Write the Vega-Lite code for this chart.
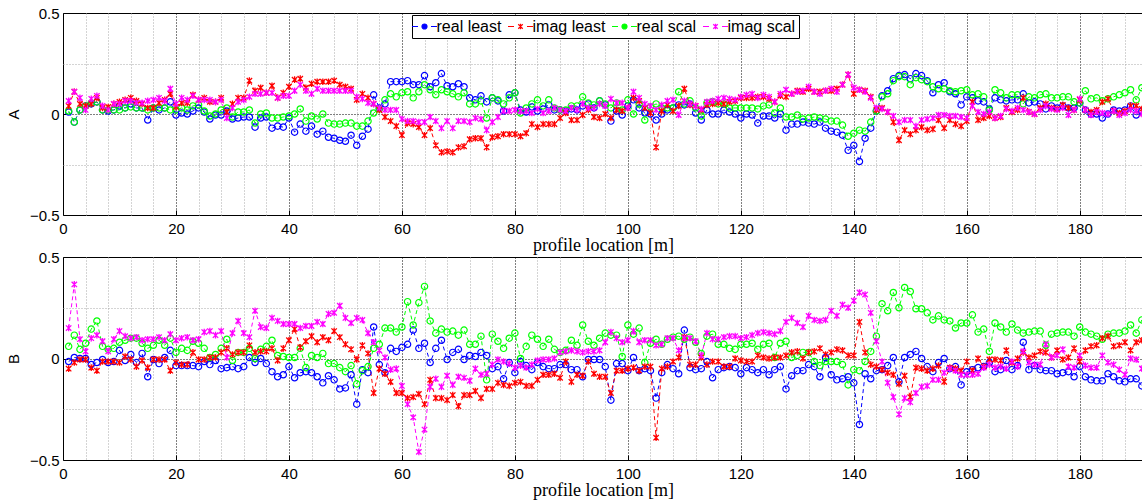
{
"$schema": "https://vega.github.io/schema/vega-lite/v6.json",
"background": "white",
"padding": {"left": 5, "top": 5, "right": 0, "bottom": 0},
"bounds": "flush",
"spacing": 42,
"config": {
  "view": {"stroke": "black", "strokeWidth": 1},
  "font": "Liberation Sans",
  "axis": {"domain": false, "labelFont": "Liberation Sans", "labelFontSize": 15, "labelColor": "black", "tickColor": "black", "tickSize": -5, "tickWidth": 1, "gridDash": [1, 2], "gridWidth": 1, "titleColor": "black", "titleFontWeight": "normal"}
},
"resolve": {"scale": {"color": "independent"}},
"data": {"values": [
{"m":1,"ra":0.01,"ia":0.04,"sa":0.015,"ja":0.065,"rb":-0.015,"ib":-0.05,"sb":0.06,"jb":0.15},
{"m":2,"ra":-0.04,"ia":0.11,"sa":-0.04,"ja":0.11,"rb":0.005,"ib":-0.02,"sb":0.115,"jb":0.365},
{"m":3,"ra":0.02,"ia":0.05,"sa":0.02,"ja":0.08,"rb":0,"ib":-0.005,"sb":0.045,"jb":0.095},
{"m":4,"ra":0.04,"ia":0.04,"sa":0.04,"ja":0.02,"rb":0,"ib":-0.005,"sb":0.075,"jb":0.035},
{"m":5,"ra":0.05,"ia":0.05,"sa":0.055,"ja":0.075,"rb":-0.03,"ib":-0.045,"sb":0.145,"jb":0.1},
{"m":6,"ra":0.06,"ia":0.08,"sa":0.06,"ja":0.09,"rb":-0.02,"ib":-0.06,"sb":0.185,"jb":0.115},
{"m":7,"ra":0.02,"ia":0.03,"sa":0.02,"ja":0.04,"rb":-0.005,"ib":-0.015,"sb":0.06,"jb":0.085},
{"m":8,"ra":0.015,"ia":0.035,"sa":0.02,"ja":0.02,"rb":-0.02,"ib":-0.015,"sb":0.045,"jb":0.035},
{"m":9,"ra":0.02,"ia":0.05,"sa":0.02,"ja":0.05,"rb":-0.015,"ib":-0.015,"sb":0.05,"jb":0.095},
{"m":10,"ra":0.04,"ia":0.06,"sa":0.02,"ja":0.05,"rb":0.04,"ib":-0.02,"sb":0.08,"jb":0.135},
{"m":11,"ra":0.03,"ia":0.07,"sa":0.03,"ja":0.065,"rb":-0.01,"ib":0.01,"sb":0.09,"jb":0.11},
{"m":12,"ra":0.05,"ia":0.08,"sa":0.035,"ja":0.065,"rb":0.02,"ib":-0.005,"sb":0.1,"jb":0.1},
{"m":13,"ra":0.03,"ia":0.065,"sa":0.03,"ja":0.055,"rb":-0.02,"ib":-0.04,"sb":0.1,"jb":0.105},
{"m":14,"ra":0.03,"ia":0.05,"sa":0.03,"ja":0.055,"rb":0.025,"ib":-0.01,"sb":0.075,"jb":0.09},
{"m":15,"ra":-0.03,"ia":0.03,"sa":0.02,"ja":0.065,"rb":-0.09,"ib":-0.045,"sb":0.05,"jb":0.095},
{"m":16,"ra":0.03,"ia":0.03,"sa":0.03,"ja":0.07,"rb":-0.005,"ib":-0.005,"sb":0.065,"jb":0.095},
{"m":17,"ra":0.02,"ia":0.055,"sa":0.03,"ja":0.08,"rb":-0.025,"ib":-0.005,"sb":0.09,"jb":0.105},
{"m":18,"ra":0.03,"ia":0.07,"sa":0.03,"ja":0.065,"rb":0.005,"ib":-0.005,"sb":0.065,"jb":0.09},
{"m":19,"ra":0.06,"ia":0.1,"sa":0.02,"ja":0.125,"rb":0.04,"ib":-0.06,"sb":0.1,"jb":0.12},
{"m":20,"ra":-0.005,"ia":0.035,"sa":0.02,"ja":0.05,"rb":-0.035,"ib":-0.02,"sb":0.03,"jb":0.09},
{"m":21,"ra":0.005,"ia":0.055,"sa":0.03,"ja":0.08,"rb":-0.035,"ib":-0.03,"sb":0.05,"jb":0.1},
{"m":22,"ra":0,"ia":0.055,"sa":0.02,"ja":0.07,"rb":-0.035,"ib":-0.03,"sb":0.04,"jb":0.105},
{"m":23,"ra":0.015,"ia":0.095,"sa":0.04,"ja":0.09,"rb":-0.035,"ib":0.03,"sb":0.085,"jb":0.09},
{"m":24,"ra":0.03,"ia":0.07,"sa":0.045,"ja":0.07,"rb":-0.04,"ib":-0.005,"sb":0.075,"jb":0.095},
{"m":25,"ra":0.01,"ia":0.08,"sa":0.015,"ja":0.07,"rb":-0.015,"ib":-0.005,"sb":0.05,"jb":0.13},
{"m":26,"ra":-0.025,"ia":0.06,"sa":-0.01,"ja":0.07,"rb":-0.03,"ib":0.005,"sb":0.005,"jb":0.135},
{"m":27,"ra":-0.005,"ia":0.06,"sa":0,"ja":0.06,"rb":-0.01,"ib":0.005,"sb":0.02,"jb":0.115},
{"m":28,"ra":-0.005,"ia":0.08,"sa":0.02,"ja":0.07,"rb":-0.05,"ib":0.03,"sb":0.05,"jb":0.135},
{"m":29,"ra":0.015,"ia":0.01,"sa":0.03,"ja":-0.02,"rb":-0.045,"ib":0.05,"sb":0.095,"jb":0.005},
{"m":30,"ra":-0.025,"ia":0.05,"sa":-0.015,"ja":0.03,"rb":-0.04,"ib":0.02,"sb":-0.01,"jb":0.125},
{"m":31,"ra":-0.02,"ia":0.08,"sa":0.01,"ja":0.06,"rb":-0.05,"ib":0.03,"sb":0.03,"jb":0.185},
{"m":32,"ra":-0.015,"ia":0.08,"sa":0.01,"ja":0.07,"rb":-0.04,"ib":0.03,"sb":0.03,"jb":0.125},
{"m":33,"ra":-0.015,"ia":0.165,"sa":0.02,"ja":0.085,"rb":0.005,"ib":0.065,"sb":0.05,"jb":0.105},
{"m":34,"ra":-0.065,"ia":0.115,"sa":-0.045,"ja":0.1,"rb":-0.02,"ib":0.03,"sb":0,"jb":0.235},
{"m":35,"ra":-0.02,"ia":0.13,"sa":0,"ja":0.1,"rb":0,"ib":0.035,"sb":0.045,"jb":0.155},
{"m":36,"ra":-0.015,"ia":0.105,"sa":0.005,"ja":0.105,"rb":-0.025,"ib":0.035,"sb":0.06,"jb":0.15},
{"m":37,"ra":-0.07,"ia":0.14,"sa":-0.02,"ja":0.105,"rb":-0.065,"ib":0.05,"sb":0.09,"jb":0.2},
{"m":38,"ra":-0.06,"ia":0.08,"sa":-0.02,"ja":0.08,"rb":-0.09,"ib":-0.01,"sb":0.015,"jb":0.185},
{"m":39,"ra":-0.065,"ia":0.105,"sa":-0.015,"ja":0.09,"rb":-0.08,"ib":0.05,"sb":0.01,"jb":0.17},
{"m":40,"ra":-0.02,"ia":0.135,"sa":-0.01,"ja":0.09,"rb":-0.04,"ib":0.09,"sb":0.005,"jb":0.17},
{"m":41,"ra":-0.09,"ia":0.17,"sa":0,"ja":0.115,"rb":-0.095,"ib":0.145,"sb":0.005,"jb":0.17},
{"m":42,"ra":-0.05,"ia":0.175,"sa":0.025,"ja":0.145,"rb":-0.07,"ib":0.055,"sb":0.05,"jb":0.15},
{"m":43,"ra":-0.085,"ia":0.13,"sa":-0.035,"ja":0.115,"rb":-0.065,"ib":0.085,"sb":-0.045,"jb":0.16},
{"m":44,"ra":-0.06,"ia":0.15,"sa":-0.01,"ja":0.1,"rb":-0.07,"ib":0.11,"sb":0.015,"jb":0.16},
{"m":45,"ra":-0.1,"ia":0.16,"sa":-0.025,"ja":0.125,"rb":-0.09,"ib":0.08,"sb":0.005,"jb":0.18},
{"m":46,"ra":-0.085,"ia":0.16,"sa":0,"ja":0.115,"rb":-0.12,"ib":0.105,"sb":0.025,"jb":0.17},
{"m":47,"ra":-0.115,"ia":0.16,"sa":-0.045,"ja":0.115,"rb":-0.085,"ib":0.09,"sb":-0.025,"jb":0.22},
{"m":48,"ra":-0.12,"ia":0.165,"sa":-0.05,"ja":0.115,"rb":-0.105,"ib":0.135,"sb":-0.025,"jb":0.225},
{"m":49,"ra":-0.13,"ia":0.145,"sa":-0.05,"ja":0.115,"rb":-0.15,"ib":0.105,"sb":-0.045,"jb":0.26},
{"m":50,"ra":-0.135,"ia":0.135,"sa":-0.045,"ja":0.115,"rb":-0.145,"ib":0.07,"sb":-0.065,"jb":0.2},
{"m":51,"ra":-0.105,"ia":0.125,"sa":-0.045,"ja":0.115,"rb":-0.08,"ib":0.045,"sb":-0.035,"jb":0.175},
{"m":52,"ra":-0.155,"ia":0.07,"sa":-0.06,"ja":0.085,"rb":-0.225,"ib":-0.005,"sb":-0.125,"jb":0.2},
{"m":53,"ra":-0.11,"ia":0.1,"sa":-0.06,"ja":0.075,"rb":-0.055,"ib":0.065,"sb":-0.06,"jb":0.19},
{"m":54,"ra":-0.075,"ia":0.08,"sa":-0.035,"ja":0.055,"rb":-0.07,"ib":0.025,"sb":-0.04,"jb":0.125},
{"m":55,"ra":0.095,"ia":0.05,"sa":0.005,"ja":0.05,"rb":0.155,"ib":-0.17,"sb":0.05,"jb":0.08},
{"m":56,"ra":0.03,"ia":0.02,"sa":0.025,"ja":0.03,"rb":-0.03,"ib":-0.05,"sb":0.07,"jb":0.04},
{"m":57,"ra":0.05,"ia":-0.015,"sa":0.07,"ja":0.02,"rb":-0.07,"ib":-0.075,"sb":0.15,"jb":0.005},
{"m":58,"ra":0.16,"ia":-0.035,"sa":0.1,"ja":0.02,"rb":0.05,"ib":-0.115,"sb":0.15,"jb":-0.055},
{"m":59,"ra":0.16,"ia":-0.06,"sa":0.085,"ja":0.02,"rb":0.035,"ib":-0.17,"sb":0.13,"jb":-0.05},
{"m":60,"ra":0.16,"ia":-0.105,"sa":0.105,"ja":-0.025,"rb":0.055,"ib":-0.17,"sb":0.155,"jb":-0.135},
{"m":61,"ra":0.165,"ia":-0.045,"sa":0.11,"ja":-0.035,"rb":0.07,"ib":-0.195,"sb":0.28,"jb":-0.225},
{"m":62,"ra":0.145,"ia":-0.05,"sa":0.08,"ja":-0.035,"rb":0.14,"ib":-0.19,"sb":0.165,"jb":-0.29},
{"m":63,"ra":0.145,"ia":-0.065,"sa":0.11,"ja":-0.04,"rb":0.05,"ib":-0.175,"sb":0.275,"jb":-0.46},
{"m":64,"ra":0.19,"ia":-0.105,"sa":0.145,"ja":-0.04,"rb":0.075,"ib":-0.225,"sb":0.355,"jb":-0.35},
{"m":65,"ra":0.135,"ia":-0.07,"sa":0.12,"ja":-0.015,"rb":-0.02,"ib":-0.105,"sb":0.185,"jb":-0.14},
{"m":66,"ra":0.155,"ia":-0.155,"sa":0.095,"ja":-0.035,"rb":0.05,"ib":-0.195,"sb":0.125,"jb":-0.1},
{"m":67,"ra":0.2,"ia":-0.19,"sa":0.12,"ja":-0.07,"rb":0.09,"ib":-0.195,"sb":0.145,"jb":-0.14},
{"m":68,"ra":0.14,"ia":-0.185,"sa":0.11,"ja":-0.035,"rb":-0.005,"ib":-0.205,"sb":0.13,"jb":-0.085},
{"m":69,"ra":0.135,"ia":-0.19,"sa":0.1,"ja":-0.07,"rb":0.03,"ib":-0.18,"sb":0.135,"jb":-0.13},
{"m":70,"ra":0.15,"ia":-0.165,"sa":0.085,"ja":-0.035,"rb":0.045,"ib":-0.235,"sb":0.115,"jb":-0.09},
{"m":71,"ra":0.135,"ia":-0.16,"sa":0.105,"ja":-0.035,"rb":-0.005,"ib":-0.18,"sb":0.14,"jb":-0.095},
{"m":72,"ra":0.08,"ia":-0.125,"sa":0.05,"ja":-0.04,"rb":0.015,"ib":-0.18,"sb":0.07,"jb":-0.11},
{"m":73,"ra":0.07,"ia":-0.12,"sa":0.05,"ja":-0.02,"rb":0.01,"ib":-0.16,"sb":0.07,"jb":-0.05},
{"m":74,"ra":0.09,"ia":-0.12,"sa":0.065,"ja":-0.025,"rb":0.03,"ib":-0.195,"sb":0.11,"jb":-0.08},
{"m":75,"ra":0.06,"ia":-0.165,"sa":-0.02,"ja":-0.08,"rb":0.015,"ib":-0.15,"sb":-0.105,"jb":-0.075},
{"m":76,"ra":0.08,"ia":-0.115,"sa":0.08,"ja":-0.04,"rb":-0.05,"ib":-0.15,"sb":0.12,"jb":-0.03},
{"m":77,"ra":0.065,"ia":-0.11,"sa":0.07,"ja":-0.015,"rb":-0.04,"ib":-0.12,"sb":0.085,"jb":-0.005},
{"m":78,"ra":0.015,"ia":-0.1,"sa":0.05,"ja":0.015,"rb":-0.1,"ib":-0.13,"sb":0.05,"jb":-0.015},
{"m":79,"ra":0.095,"ia":-0.1,"sa":0.08,"ja":0.015,"rb":-0.02,"ib":-0.135,"sb":0.1,"jb":-0.025},
{"m":80,"ra":0.105,"ia":-0.1,"sa":0.105,"ja":0.02,"rb":-0.07,"ib":-0.12,"sb":0.125,"jb":-0.045},
{"m":81,"ra":0.02,"ia":-0.11,"sa":0.005,"ja":0.015,"rb":-0.015,"ib":-0.115,"sb":0,"jb":-0.035},
{"m":82,"ra":0.01,"ia":-0.095,"sa":0.03,"ja":0.015,"rb":-0.035,"ib":-0.135,"sb":0.06,"jb":-0.045},
{"m":83,"ra":0.035,"ia":-0.05,"sa":0.05,"ja":0.005,"rb":-0.055,"ib":-0.135,"sb":0.115,"jb":-0.03},
{"m":84,"ra":0.015,"ia":-0.065,"sa":0.07,"ja":0.025,"rb":-0.02,"ib":-0.105,"sb":0.095,"jb":-0.01},
{"m":85,"ra":0.025,"ia":-0.05,"sa":0.04,"ja":0.005,"rb":-0.04,"ib":-0.08,"sb":0.06,"jb":-0.005},
{"m":86,"ra":0.045,"ia":-0.05,"sa":0.07,"ja":0.015,"rb":-0.05,"ib":-0.08,"sb":0.095,"jb":-0.005},
{"m":87,"ra":0.02,"ia":-0.05,"sa":0.03,"ja":0.03,"rb":-0.05,"ib":-0.075,"sb":0.045,"jb":0},
{"m":88,"ra":0.02,"ia":-0.02,"sa":0.02,"ja":0.02,"rb":-0.03,"ib":-0.095,"sb":0.03,"jb":0.03},
{"m":89,"ra":0.015,"ia":0.005,"sa":0.02,"ja":0.015,"rb":-0.03,"ib":-0.015,"sb":0.04,"jb":0.035},
{"m":90,"ra":0.025,"ia":-0.03,"sa":0.04,"ja":0.03,"rb":-0.055,"ib":-0.115,"sb":0.09,"jb":0.04},
{"m":91,"ra":0.02,"ia":-0.03,"sa":0.04,"ja":0.02,"rb":-0.055,"ib":-0.08,"sb":0.065,"jb":0.035},
{"m":92,"ra":0.04,"ia":-0.005,"sa":0.085,"ja":0.05,"rb":-0.09,"ib":-0.085,"sb":0.165,"jb":0.03},
{"m":93,"ra":0.05,"ia":0.02,"sa":0.055,"ja":0.03,"rb":-0.005,"ib":-0.015,"sb":0.085,"jb":0.035},
{"m":94,"ra":0.03,"ia":-0.015,"sa":0.045,"ja":0.03,"rb":-0.005,"ib":-0.075,"sb":0.065,"jb":0.035},
{"m":95,"ra":0.065,"ia":-0.02,"sa":0.065,"ja":0.05,"rb":-0.005,"ib":-0.09,"sb":0.1,"jb":0.04},
{"m":96,"ra":0.045,"ia":0,"sa":0.05,"ja":0.04,"rb":-0.04,"ib":-0.09,"sb":0.125,"jb":0.08},
{"m":97,"ra":-0.035,"ia":-0.02,"sa":0.03,"ja":0.075,"rb":-0.205,"ib":-0.17,"sb":0.115,"jb":0.13},
{"m":98,"ra":0.015,"ia":0.02,"sa":0.055,"ja":0.055,"rb":-0.025,"ib":-0.06,"sb":0.115,"jb":0.1},
{"m":99,"ra":-0.005,"ia":0.015,"sa":0.02,"ja":0.055,"rb":-0.025,"ib":-0.06,"sb":0.01,"jb":0.08},
{"m":100,"ra":0.04,"ia":0.03,"sa":0.07,"ja":0.03,"rb":-0.06,"ib":-0.05,"sb":0.165,"jb":0.09},
{"m":101,"ra":0.07,"ia":0.08,"sa":0,"ja":0.11,"rb":0.005,"ib":-0.045,"sb":0.12,"jb":0.135},
{"m":102,"ra":0.03,"ia":0.065,"sa":0.05,"ja":0.08,"rb":-0.06,"ib":-0.06,"sb":0.15,"jb":0.08},
{"m":103,"ra":0.005,"ia":0.03,"sa":-0.03,"ja":0.05,"rb":-0.05,"ib":-0.04,"sb":-0.02,"jb":0.09},
{"m":104,"ra":0,"ia":0.005,"sa":0.035,"ja":0.04,"rb":-0.06,"ib":-0.04,"sb":0.075,"jb":0.09},
{"m":105,"ra":-0.03,"ia":-0.165,"sa":0.05,"ja":0.02,"rb":-0.195,"ib":-0.39,"sb":0.095,"jb":0.065},
{"m":106,"ra":0,"ia":0.015,"sa":0.03,"ja":0.045,"rb":-0.07,"ib":-0.05,"sb":0.07,"jb":0.07},
{"m":107,"ra":0.02,"ia":0.045,"sa":0.03,"ja":0.065,"rb":-0.03,"ib":-0.04,"sb":0.095,"jb":0.1},
{"m":108,"ra":0.03,"ia":0.015,"sa":0.03,"ja":0.07,"rb":-0.05,"ib":-0.015,"sb":0.105,"jb":0.1},
{"m":109,"ra":0.045,"ia":0.04,"sa":0.11,"ja":-0.005,"rb":-0.075,"ib":0.005,"sb":0.11,"jb":0.04},
{"m":110,"ra":0.045,"ia":0.125,"sa":0.05,"ja":0.065,"rb":0.14,"ib":0.105,"sb":0.095,"jb":0.1},
{"m":111,"ra":0.05,"ia":0.045,"sa":0.065,"ja":0.05,"rb":-0.045,"ib":-0.03,"sb":0.105,"jb":0.1},
{"m":112,"ra":0.005,"ia":0.04,"sa":0.03,"ja":0.04,"rb":-0.055,"ib":-0.03,"sb":0.08,"jb":0.085},
{"m":113,"ra":-0.03,"ia":0.02,"sa":-0.01,"ja":0.025,"rb":-0.05,"ib":0.005,"sb":0.025,"jb":0.015},
{"m":114,"ra":0.02,"ia":0.045,"sa":0.055,"ja":0.06,"rb":-0.015,"ib":-0.03,"sb":0.11,"jb":0.125},
{"m":115,"ra":0,"ia":0.05,"sa":0.06,"ja":0.065,"rb":-0.095,"ib":-0.015,"sb":0.12,"jb":0.095},
{"m":116,"ra":0,"ia":0.055,"sa":0.05,"ja":0.075,"rb":-0.055,"ib":-0.015,"sb":0.07,"jb":0.095},
{"m":117,"ra":0.02,"ia":0.05,"sa":0.05,"ja":0.08,"rb":-0.045,"ib":-0.04,"sb":0.07,"jb":0.105},
{"m":118,"ra":0.01,"ia":0.06,"sa":0.03,"ja":0.075,"rb":-0.04,"ib":-0.04,"sb":0.05,"jb":0.11},
{"m":119,"ra":0,"ia":0.065,"sa":0.03,"ja":0.07,"rb":-0.045,"ib":0,"sb":0.045,"jb":0.11},
{"m":120,"ra":-0.02,"ia":0.08,"sa":0.03,"ja":0.085,"rb":-0.075,"ib":-0.01,"sb":0.07,"jb":0.1},
{"m":121,"ra":0,"ia":0.08,"sa":0.03,"ja":0.095,"rb":-0.045,"ib":-0.015,"sb":0.07,"jb":0.105},
{"m":122,"ra":-0.005,"ia":0.08,"sa":0.03,"ja":0.1,"rb":-0.055,"ib":-0.015,"sb":0.075,"jb":0.115},
{"m":123,"ra":-0.045,"ia":0.085,"sa":0.025,"ja":0.08,"rb":-0.07,"ib":0.015,"sb":0.045,"jb":0.125},
{"m":124,"ra":-0.01,"ia":0.085,"sa":0.04,"ja":0.095,"rb":-0.055,"ib":0.005,"sb":0.07,"jb":0.13},
{"m":125,"ra":-0.01,"ia":0.075,"sa":0.045,"ja":0.085,"rb":-0.08,"ib":0,"sb":0.075,"jb":0.125},
{"m":126,"ra":-0.02,"ia":0.06,"sa":0.005,"ja":0.06,"rb":-0.055,"ib":0.005,"sb":0.005,"jb":0.12},
{"m":127,"ra":0,"ia":0.09,"sa":0.03,"ja":0.1,"rb":-0.04,"ib":0.005,"sb":0.075,"jb":0.135},
{"m":128,"ra":-0.08,"ia":0.085,"sa":-0.015,"ja":0.12,"rb":-0.15,"ib":0.015,"sb":0.085,"jb":0.18},
{"m":129,"ra":-0.05,"ia":0.1,"sa":-0.015,"ja":0.1,"rb":-0.085,"ib":0.03,"sb":0.005,"jb":0.2},
{"m":130,"ra":-0.05,"ia":0.115,"sa":-0.005,"ja":0.11,"rb":-0.06,"ib":0.035,"sb":0.015,"jb":0.175},
{"m":131,"ra":-0.04,"ia":0.11,"sa":-0.025,"ja":0.115,"rb":-0.06,"ib":0,"sb":0.03,"jb":0.155},
{"m":132,"ra":-0.045,"ia":0.125,"sa":-0.02,"ja":0.135,"rb":-0.03,"ib":0.03,"sb":0.03,"jb":0.21},
{"m":133,"ra":-0.05,"ia":0.11,"sa":-0.015,"ja":0.11,"rb":-0.04,"ib":0.035,"sb":-0.015,"jb":0.19},
{"m":134,"ra":-0.04,"ia":0.11,"sa":-0.02,"ja":0.1,"rb":-0.09,"ib":0.05,"sb":-0.035,"jb":0.185},
{"m":135,"ra":-0.07,"ia":0.115,"sa":-0.025,"ja":0.115,"rb":0.005,"ib":0.02,"sb":-0.015,"jb":0.19},
{"m":136,"ra":-0.085,"ia":0.115,"sa":-0.035,"ja":0.125,"rb":-0.08,"ib":0.03,"sb":-0.015,"jb":0.235},
{"m":137,"ra":-0.09,"ia":0.125,"sa":-0.035,"ja":0.11,"rb":-0.105,"ib":0.045,"sb":-0.015,"jb":0.21},
{"m":138,"ra":-0.105,"ia":0.145,"sa":-0.055,"ja":0.145,"rb":-0.1,"ib":0.04,"sb":-0.03,"jb":0.265},
{"m":139,"ra":-0.18,"ia":0.195,"sa":-0.11,"ja":0.195,"rb":-0.09,"ib":0.015,"sb":-0.13,"jb":0.25},
{"m":140,"ra":-0.155,"ia":0.1,"sa":-0.095,"ja":0.13,"rb":-0.12,"ib":0.015,"sb":-0.055,"jb":0.285},
{"m":141,"ra":-0.235,"ia":0.12,"sa":-0.08,"ja":0.12,"rb":-0.325,"ib":0.18,"sb":-0.06,"jb":0.325},
{"m":142,"ra":-0.12,"ia":0.115,"sa":-0.085,"ja":0.11,"rb":-0.075,"ib":0.03,"sb":-0.015,"jb":0.315},
{"m":143,"ra":-0.07,"ia":0.085,"sa":-0.04,"ja":0.08,"rb":-0.1,"ib":-0.03,"sb":0.035,"jb":0.225},
{"m":144,"ra":0.015,"ia":0.02,"sa":0.015,"ja":0.03,"rb":-0.06,"ib":-0.04,"sb":0.11,"jb":0.085},
{"m":145,"ra":0.09,"ia":0.03,"sa":0.085,"ja":0.025,"rb":-0.055,"ib":-0.055,"sb":0.27,"jb":-0.015},
{"m":146,"ra":0.115,"ia":0.01,"sa":0.1,"ja":0.01,"rb":-0.035,"ib":-0.07,"sb":0.235,"jb":-0.12},
{"m":147,"ra":0.175,"ia":-0.04,"sa":0.165,"ja":-0.01,"rb":0.005,"ib":-0.08,"sb":0.325,"jb":-0.19},
{"m":148,"ra":0.19,"ia":-0.13,"sa":0.185,"ja":-0.04,"rb":-0.115,"ib":-0.125,"sb":0.25,"jb":-0.275},
{"m":149,"ra":0.195,"ia":-0.08,"sa":0.185,"ja":-0.03,"rb":0.005,"ib":-0.085,"sb":0.35,"jb":-0.195},
{"m":150,"ra":0.175,"ia":-0.1,"sa":0.145,"ja":-0.03,"rb":0.02,"ib":-0.19,"sb":0.33,"jb":-0.215},
{"m":151,"ra":0.2,"ia":-0.08,"sa":0.18,"ja":-0.06,"rb":0.035,"ib":-0.045,"sb":0.245,"jb":-0.17},
{"m":152,"ra":0.19,"ia":-0.065,"sa":0.17,"ja":-0.03,"rb":0,"ib":-0.05,"sb":0.245,"jb":-0.14},
{"m":153,"ra":0.165,"ia":-0.08,"sa":0.16,"ja":-0.025,"rb":-0.04,"ib":-0.06,"sb":0.225,"jb":-0.135},
{"m":154,"ra":0.105,"ia":-0.075,"sa":0.135,"ja":-0.02,"rb":-0.065,"ib":-0.05,"sb":0.19,"jb":-0.105},
{"m":155,"ra":0.145,"ia":-0.03,"sa":0.125,"ja":-0.005,"rb":-0.02,"ib":-0.035,"sb":0.21,"jb":-0.105},
{"m":156,"ra":0.155,"ia":-0.07,"sa":0.125,"ja":-0.005,"rb":0,"ib":-0.115,"sb":0.19,"jb":-0.07},
{"m":157,"ra":0.11,"ia":-0.03,"sa":0.115,"ja":-0.01,"rb":-0.05,"ib":-0.045,"sb":0.185,"jb":-0.05},
{"m":158,"ra":0.1,"ia":-0.05,"sa":0.11,"ja":-0.01,"rb":-0.04,"ib":-0.05,"sb":0.15,"jb":-0.06},
{"m":159,"ra":0.045,"ia":-0.06,"sa":0.115,"ja":-0.015,"rb":-0.13,"ib":-0.06,"sb":0.175,"jb":-0.08},
{"m":160,"ra":0.085,"ia":-0.035,"sa":0.12,"ja":-0.02,"rb":-0.065,"ib":-0.015,"sb":0.175,"jb":-0.08},
{"m":161,"ra":0.08,"ia":0.06,"sa":0.095,"ja":0.04,"rb":-0.055,"ib":-0.06,"sb":0.215,"jb":-0.08},
{"m":162,"ra":0.065,"ia":-0.03,"sa":0.1,"ja":0.01,"rb":-0.045,"ib":0,"sb":0.13,"jb":-0.075},
{"m":163,"ra":0.06,"ia":-0.02,"sa":0.085,"ja":0,"rb":-0.04,"ib":-0.04,"sb":0.145,"jb":-0.045},
{"m":164,"ra":0.025,"ia":-0.01,"sa":0.02,"ja":0.01,"rb":-0.02,"ib":-0.005,"sb":0.035,"jb":-0.03},
{"m":165,"ra":0.08,"ia":-0.02,"sa":0.12,"ja":-0.02,"rb":-0.065,"ib":-0.005,"sb":0.175,"jb":-0.045},
{"m":166,"ra":0.07,"ia":-0.015,"sa":0.105,"ja":-0.01,"rb":-0.055,"ib":-0.01,"sb":0.155,"jb":-0.04},
{"m":167,"ra":0.065,"ia":0.03,"sa":0.08,"ja":0.025,"rb":-0.01,"ib":0.04,"sb":0.13,"jb":-0.05},
{"m":168,"ra":0.07,"ia":0.01,"sa":0.095,"ja":0.015,"rb":-0.055,"ib":-0.02,"sb":0.17,"jb":-0.015},
{"m":169,"ra":0.07,"ia":0.02,"sa":0.095,"ja":0.03,"rb":-0.035,"ib":0,"sb":0.14,"jb":-0.04},
{"m":170,"ra":0.1,"ia":0.08,"sa":0.05,"ja":0.02,"rb":0.08,"ib":0.03,"sb":0.125,"jb":0.035},
{"m":171,"ra":0.055,"ia":0.01,"sa":0.085,"ja":0.01,"rb":-0.055,"ib":0.005,"sb":0.13,"jb":-0.02},
{"m":172,"ra":0.06,"ia":0,"sa":0.08,"ja":0,"rb":-0.035,"ib":0.015,"sb":0.135,"jb":-0.03},
{"m":173,"ra":0.05,"ia":0.03,"sa":0.095,"ja":0.02,"rb":-0.055,"ib":0.035,"sb":0.135,"jb":-0.03},
{"m":174,"ra":0.025,"ia":0.05,"sa":0.1,"ja":0.04,"rb":-0.06,"ib":0.03,"sb":0.065,"jb":0.07},
{"m":175,"ra":0.04,"ia":0.03,"sa":0.08,"ja":0.025,"rb":-0.06,"ib":0.005,"sb":0.12,"jb":0.005},
{"m":176,"ra":0.03,"ia":0.025,"sa":0.08,"ja":0.02,"rb":-0.075,"ib":0.04,"sb":0.125,"jb":0.015},
{"m":177,"ra":0.04,"ia":0.045,"sa":0.085,"ja":0.03,"rb":-0.07,"ib":-0.005,"sb":0.13,"jb":0.045},
{"m":178,"ra":0.03,"ia":0.03,"sa":0.085,"ja":-0.005,"rb":-0.065,"ib":0.005,"sb":0.13,"jb":-0.04},
{"m":179,"ra":0.03,"ia":0.02,"sa":0.06,"ja":0.02,"rb":-0.09,"ib":0.05,"sb":0.11,"jb":-0.045},
{"m":180,"ra":0.055,"ia":0.07,"sa":0.055,"ja":0.075,"rb":-0.04,"ib":-0.015,"sb":0.155,"jb":0.015},
{"m":181,"ra":0.02,"ia":0.02,"sa":0.115,"ja":0.02,"rb":-0.09,"ib":0.04,"sb":0.13,"jb":-0.035},
{"m":182,"ra":0,"ia":0.01,"sa":0.075,"ja":-0.005,"rb":-0.105,"ib":0.06,"sb":0.12,"jb":-0.045},
{"m":183,"ra":0,"ia":0.02,"sa":0.08,"ja":0.01,"rb":-0.11,"ib":0.065,"sb":0.11,"jb":-0.045},
{"m":184,"ra":-0.02,"ia":0.06,"sa":0.065,"ja":0.005,"rb":-0.11,"ib":0.1,"sb":0.095,"jb":0.015},
{"m":185,"ra":0,"ia":0.075,"sa":0.075,"ja":0,"rb":-0.075,"ib":0.11,"sb":0.12,"jb":-0.02},
{"m":186,"ra":0.02,"ia":0.015,"sa":0.085,"ja":0.015,"rb":-0.09,"ib":0.06,"sb":0.125,"jb":-0.03},
{"m":187,"ra":0.015,"ia":0.005,"sa":0.095,"ja":-0.005,"rb":-0.11,"ib":0.065,"sb":0.125,"jb":-0.055},
{"m":188,"ra":0.02,"ia":0.015,"sa":0.105,"ja":0.005,"rb":-0.115,"ib":0.08,"sb":0.135,"jb":-0.08},
{"m":189,"ra":0.04,"ia":0.04,"sa":0.12,"ja":0.02,"rb":-0.1,"ib":0.04,"sb":0.165,"jb":0},
{"m":190,"ra":-0.005,"ia":0.04,"sa":0.07,"ja":0.015,"rb":-0.1,"ib":0.08,"sb":0.125,"jb":-0.005},
{"m":191,"ra":0.015,"ia":0.025,"sa":0.13,"ja":0,"rb":-0.135,"ib":0.09,"sb":0.19,"jb":-0.05}
]},
"vconcat": [
{
  "width": 1080, "height": 202,
  "encoding": {
    "x": {"field": "m", "type": "quantitative", "scale": {"domain": [0, 191.2], "nice": false, "zero": false},
      "axis": {"values": [0,4,8,12,16,20,24,28,32,36,40,44,48,52,56,60,64,68,72,76,80,84,88,92,96,100,104,108,112,116,120,124,128,132,136,140,144,148,152,156,160,164,168,172,176,180,184,188],
        "labelExpr": "datum.value % 20 === 0 ? datum.label : ''", "labelFlush": false, "labelOverlap": false, "labelPadding": 11,
        "gridColor": {"condition": {"test": "datum.value % 20 === 0", "value": "#000000"}, "value": "#a8a8a8"},
        "gridOpacity": {"condition": {"test": "datum.value === 0", "value": 0}, "value": 1},
        "tickOpacity": {"condition": {"test": "datum.value % 20 === 0 && datum.value > 0", "value": 1}, "value": 0},
        "title": "profile location [m]", "titleFont": "Liberation Serif", "titleFontSize": 18, "titlePadding": 0}},
    "y": {"field": "v", "type": "quantitative", "scale": {"domain": [-0.5, 0.5], "nice": false},
      "axis": {"values": [-0.5, -0.25, 0, 0.25, 0.5], "format": ".1~f", "labelExpr": "abs(datum.value) === 0.25 ? '' : datum.label", "labelPadding": 9,
        "gridColor": {"condition": {"test": "datum.value === 0", "value": "#000000"}, "value": "#a8a8a8"},
        "gridOpacity": {"condition": {"test": "abs(datum.value) === 0.5", "value": 0}, "value": 1},
        "tickOpacity": {"condition": {"test": "abs(datum.value) === 0.25", "value": 0}, "value": 1},
        "title": "A", "titleFont": "Liberation Sans", "titleFontSize": 15, "titlePadding": 8}},
    "color": {"field": "k", "type": "nominal", "scale": {"domain": ["ra", "ia", "sa", "ja"], "range": ["#0000ff", "#ff0000", "#00ff00", "#ff00ff"]},
      "legend": {"orient": "none", "legendX": 349, "legendY": 2, "direction": "horizontal", "columns": 4, "gridAlign": "each", "title": null,
        "strokeColor": "black", "fillColor": "white", "padding": 3.5, "columnPadding": 4,
        "labelFont": "Liberation Sans", "labelFontSize": 16, "labelColor": "black", "labelOffset": 4, "labelLimit": 0,
        "symbolSize": 100, "symbolOffset": 1, "symbolStrokeWidth": 1.2,
        "labelExpr": "datum.label === 'ra' ? 'real least' : datum.label === 'ia' ? 'imag least' : datum.label === 'sa' ? 'real scal' : 'imag scal'",
        "encode": {"symbols": {"update": {
          "shape": [{"test": "datum.value === 'ra' || datum.value === 'sa'", "value": "M-2.5,0L-1.3,0M-0.5,0A0.5,0.5,0,1,0,0.5,0A0.5,0.5,0,1,0,-0.5,0M1.3,0L2.5,0"}, {"value": "M-2.5,0L-1.3,0M-0.45,-0.45L0.45,0.45M-0.45,0.45L0.45,-0.45M0,-0.55L0,0.55M1.3,0L2.5,0"}],
          "fill": [{"test": "datum.value === 'ra'", "value": "#0000ff"}, {"test": "datum.value === 'sa'", "value": "#00ff00"}, {"value": "transparent"}],
          "strokeDash": {"value": []},
          "size": {"value": 100},
          "strokeWidth": {"value": 1.2}
        }}}}}
  },
  "layer": [
    {"transform": [{"fold": ["ra", "ia", "sa", "ja"], "as": ["k", "v"]}],
     "mark": {"type": "line", "strokeDash": [4, 3], "strokeWidth": 1, "clip": true}},
    {"transform": [{"fold": ["ra", "ia", "sa", "ja"], "as": ["k", "v"]}, {"filter": {"field": "k", "oneOf": ["ra", "sa"]}}],
     "mark": {"type": "point", "shape": "circle", "filled": false, "size": 40, "strokeWidth": 1.2, "opacity": 1, "clip": true}},
    {"transform": [{"fold": ["ra", "ia", "sa", "ja"], "as": ["k", "v"]}, {"filter": {"field": "k", "oneOf": ["ia", "ja"]}}],
     "mark": {"type": "point", "shape": "M-0.9,-0.9L0.9,0.9M-0.9,0.9L0.9,-0.9M0,-1.1L0,1.1", "filled": false, "size": 36, "strokeWidth": 1.3, "opacity": 1, "clip": true}},
    {"data": {"values": [{}]},
     "mark": {"type": "text", "text": "a)", "font": "Liberation Sans", "fontWeight": "bold", "fontSize": 16, "align": "left", "baseline": "top"},
     "encoding": {"x": {"datum": 0.9}, "y": {"datum": 0.465}, "color": {"value": "black"}}}
  ]
},
{
  "width": 1080, "height": 203,
  "encoding": {
    "x": {"field": "m", "type": "quantitative", "scale": {"domain": [0, 191.2], "nice": false, "zero": false},
      "axis": {"values": [0,4,8,12,16,20,24,28,32,36,40,44,48,52,56,60,64,68,72,76,80,84,88,92,96,100,104,108,112,116,120,124,128,132,136,140,144,148,152,156,160,164,168,172,176,180,184,188],
        "labelExpr": "datum.value % 20 === 0 ? datum.label : ''", "labelFlush": false, "labelOverlap": false, "labelPadding": 11,
        "gridColor": {"condition": {"test": "datum.value % 20 === 0", "value": "#000000"}, "value": "#a8a8a8"},
        "gridOpacity": {"condition": {"test": "datum.value === 0", "value": 0}, "value": 1},
        "tickOpacity": {"condition": {"test": "datum.value % 20 === 0 && datum.value > 0", "value": 1}, "value": 0},
        "title": "profile location [m]", "titleFont": "Liberation Serif", "titleFontSize": 18, "titlePadding": 0}},
    "y": {"field": "v", "type": "quantitative", "scale": {"domain": [-0.5, 0.5], "nice": false},
      "axis": {"values": [-0.5, -0.25, 0, 0.25, 0.5], "format": ".1~f", "labelExpr": "abs(datum.value) === 0.25 ? '' : datum.label", "labelPadding": 9,
        "gridColor": {"condition": {"test": "datum.value === 0", "value": "#000000"}, "value": "#a8a8a8"},
        "gridOpacity": {"condition": {"test": "abs(datum.value) === 0.5", "value": 0}, "value": 1},
        "tickOpacity": {"condition": {"test": "abs(datum.value) === 0.25", "value": 0}, "value": 1},
        "title": "B", "titleFont": "Liberation Sans", "titleFontSize": 15, "titlePadding": 8}},
    "color": {"field": "k", "type": "nominal", "scale": {"domain": ["rb", "ib", "sb", "jb"], "range": ["#0000ff", "#ff0000", "#00ff00", "#ff00ff"]}, "legend": null}
  },
  "layer": [
    {"transform": [{"fold": ["rb", "ib", "sb", "jb"], "as": ["k", "v"]}],
     "mark": {"type": "line", "strokeDash": [4, 3], "strokeWidth": 1, "clip": true}},
    {"transform": [{"fold": ["rb", "ib", "sb", "jb"], "as": ["k", "v"]}, {"filter": {"field": "k", "oneOf": ["rb", "sb"]}}],
     "mark": {"type": "point", "shape": "circle", "filled": false, "size": 40, "strokeWidth": 1.2, "opacity": 1, "clip": true}},
    {"transform": [{"fold": ["rb", "ib", "sb", "jb"], "as": ["k", "v"]}, {"filter": {"field": "k", "oneOf": ["ib", "jb"]}}],
     "mark": {"type": "point", "shape": "M-0.9,-0.9L0.9,0.9M-0.9,0.9L0.9,-0.9M0,-1.1L0,1.1", "filled": false, "size": 36, "strokeWidth": 1.3, "opacity": 1, "clip": true}},
    {"data": {"values": [{}]},
     "mark": {"type": "text", "text": "b)", "font": "Liberation Sans", "fontWeight": "bold", "fontSize": 16, "align": "left", "baseline": "top"},
     "encoding": {"x": {"datum": 0.9}, "y": {"datum": 0.465}, "color": {"value": "black"}}}
  ]
}
]
}
